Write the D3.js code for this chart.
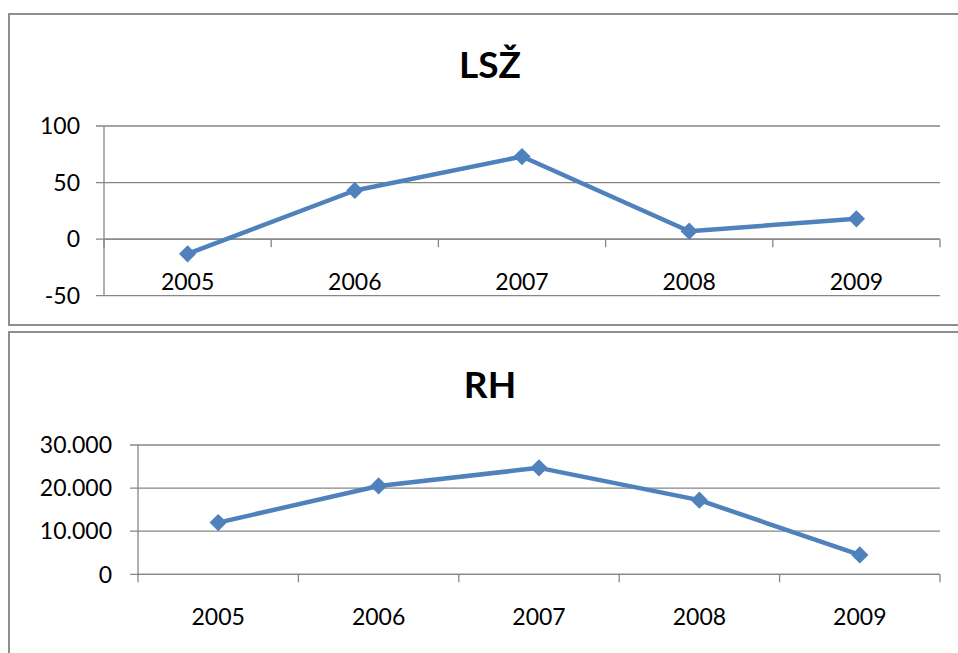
<!DOCTYPE html>
<html>
<head>
<meta charset="utf-8">
<script src="https://cdn.jsdelivr.net/npm/d3@7"></script>
<style>
html,body{margin:0;padding:0;background:#fff;}
svg{display:block;}
text{font-family:Lato,"Open Sans",sans-serif;fill:#000;}
</style>
</head>
<body>
<svg id="chart" width="958" height="653"></svg>
<script>
const years = ["2005","2006","2007","2008","2009"];
const lszValues = [-13, 43, 73, 7, 18];
const rhValues = [12000, 20500, 24700, 17200, 4500];
const lszTicks = [-50, 0, 50, 100];
const rhTicks = [0, 10000, 20000, 30000];
const titles = ["LSŽ", "RH"];

const svg = d3.select("#chart");
const lineColor = "#4f81bd";
const gridColor = "#868686";

const fmtRH = d => d === 0 ? "0" : d3.format(",")(d).replace(/,/g, ".");

function drawPanel(cfg) {
  svg.append("rect")
    .attr("x", cfg.box.x).attr("y", cfg.box.y)
    .attr("width", cfg.box.w).attr("height", cfg.box.h)
    .attr("fill", "#fff").attr("stroke", "#8e8e8e").attr("stroke-width", 2);

  const x = d3.scaleBand().domain(years).range([cfg.left, cfg.right]);
  const y = d3.scaleLinear().domain(cfg.domain).range([cfg.bottom, cfg.top]);
  const g = svg.append("g");

  g.selectAll("line.grid").data(cfg.ticks).enter().append("line")
    .attr("x1", cfg.left - 8).attr("x2", cfg.right)
    .attr("y1", d => y(d)).attr("y2", d => y(d))
    .attr("stroke", gridColor).attr("stroke-width", 1.3);

  g.append("line").attr("x1", cfg.left).attr("x2", cfg.left)
    .attr("y1", cfg.top).attr("y2", cfg.bottom)
    .attr("stroke", gridColor).attr("stroke-width", 1.3);

  g.selectAll("text.ylab").data(cfg.ticks).enter().append("text")
    .attr("x", cfg.ylabX).attr("y", d => y(d))
    .attr("dy", "0.36em").attr("text-anchor", "end")
    .attr("font-size", 23)
    .text(cfg.fmt);

  const y0 = y(0);
  g.append("line").attr("x1", cfg.left).attr("x2", cfg.right)
    .attr("y1", y0).attr("y2", y0)
    .attr("stroke", gridColor).attr("stroke-width", 1.3);
  const bounds = years.map(d => x(d)).concat([cfg.right]);
  g.selectAll("line.xt").data(bounds).enter().append("line")
    .attr("x1", d => d).attr("x2", d => d)
    .attr("y1", y0).attr("y2", y0 + 8)
    .attr("stroke", gridColor).attr("stroke-width", 1.3);

  g.selectAll("text.xlab").data(years).enter().append("text")
    .attr("x", d => x(d) + x.bandwidth() / 2).attr("y", cfg.xlabY)
    .attr("dy", "0.36em").attr("text-anchor", "middle")
    .attr("font-size", 23)
    .text(d => d);

  svg.append("text").attr("x", 490).attr("y", cfg.titleY)
    .attr("text-anchor", "middle").attr("font-size", 37)
    .attr("font-weight", "bold").text(cfg.title);

  const pts = years.map((d, i) => [x(d) + x.bandwidth() / 2, y(cfg.values[i])]);
  g.append("path").attr("d", d3.line()(pts))
    .attr("fill", "none").attr("stroke", lineColor)
    .attr("stroke-width", 4.5).attr("stroke-linejoin", "round");
  g.selectAll("path.mk").data(pts).enter().append("path")
    .attr("d", d3.symbol().type(d3.symbolDiamond2).size(190)())
    .attr("transform", d => `translate(${d[0]},${d[1]})`)
    .attr("fill", lineColor);
}

drawPanel({
  box: {x: 9, y: 14, w: 960, h: 311},
  left: 104, right: 940, top: 126, bottom: 295.7,
  domain: [-50, 100], ticks: lszTicks, values: lszValues,
  fmt: d => String(d), ylabX: 80, xlabY: 282, titleY: 78, title: titles[0]
});
drawPanel({
  box: {x: 9, y: 332, w: 960, h: 340},
  left: 138, right: 940, top: 445, bottom: 574.3,
  domain: [0, 30000], ticks: rhTicks, values: rhValues,
  fmt: fmtRH, ylabX: 112, xlabY: 617, titleY: 398, title: titles[1]
});
</script>
</body>
</html>
